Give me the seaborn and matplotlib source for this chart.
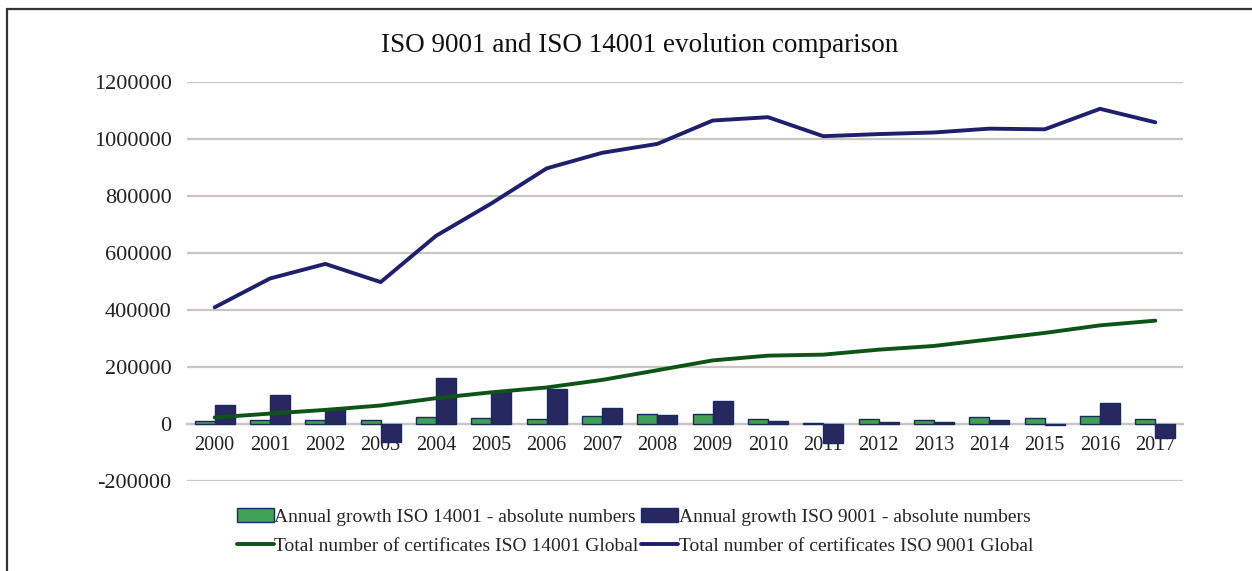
import matplotlib
matplotlib.use('Agg')
import matplotlib.pyplot as plt
from matplotlib.lines import Line2D
import seaborn as sns
import pandas as pd
import numpy as np

years = [str(y) for y in range(2000, 2018)]

# Annual growth (absolute numbers)
growth_14001 = [8791, 13567, 12976, 15556, 25558, 20608, 17049, 26361, 34002,
                34575, 16731, 3513, 17459, 13009, 22875, 22760, 26651, 16463]
growth_9001 = [65778, 101195, 51131, -63828, 162213, 113735, 123062, 54557, 31346,
               81953, 11740, -66680, 7434, 5598, 13444, -2385, 72001, -47433]

# Total number of certificates
total_14001 = [22897, 36464, 49440, 64996, 90554, 111162, 128211, 154572, 188574,
               223149, 239880, 243393, 260852, 273861, 296736, 319496, 346147, 362610]
total_9001 = [409421, 510616, 561747, 497919, 660132, 773867, 896929, 951486, 982832,
              1064785, 1076525, 1009845, 1017279, 1022877, 1036321, 1033936, 1105937, 1058504]

lab_g14 = 'Annual growth ISO 14001 - absolute numbers'
lab_g9 = 'Annual growth ISO 9001 - absolute numbers'
lab_t14 = 'Total number of certificates ISO 14001 Global'
lab_t9 = 'Total number of certificates ISO 9001 Global'

bars = pd.DataFrame({
    'year': years * 2,
    'value': growth_14001 + growth_9001,
    'series': [lab_g14] * len(years) + [lab_g9] * len(years),
})
totals = pd.DataFrame({
    'idx': np.arange(len(years)),
    't14': total_14001,
    't9': total_9001,
})

sns.set_style('white')
plt.rcParams['font.family'] = ['Liberation Serif', 'DejaVu Serif']

fig = plt.figure(figsize=(12.52, 5.71), dpi=100)
ax = fig.add_axes([187 / 1252, 1 - 481 / 571, (1183 - 187) / 1252, (481 - 82) / 571])

sns.barplot(data=bars, x='year', y='value', hue='series', order=years,
            hue_order=[lab_g14, lab_g9],
            palette={lab_g14: '#2fb04e', lab_g9: '#1e1f6b'},
            width=0.72, edgecolor='#1b2a5e', linewidth=1, ax=ax, zorder=3)
sns.lineplot(data=totals, x='idx', y='t14', color='#0e5419', linewidth=2.8,
             label=lab_t14, ax=ax, zorder=4)
sns.lineplot(data=totals, x='idx', y='t9', color='#1f1f6e', linewidth=2.8,
             label=lab_t9, ax=ax, zorder=4)

ax.set_ylim(-200000, 1200000)
ax.set_xlim(-0.5, len(years) - 0.5)
ax.set_yticks(np.arange(-200000, 1200001, 200000))
ax.set_yticklabels([str(v) for v in range(-200000, 1200001, 200000)])
ax.yaxis.grid(True, color='#c9c6c4', linewidth=1.6, zorder=0)
ax.set_axisbelow(True)
for s in ['top', 'right', 'left']:
    ax.spines[s].set_visible(False)
ax.spines['bottom'].set_position(('data', 0))
ax.spines['bottom'].set_color('#c9c6c4')
ax.spines['bottom'].set_linewidth(1.6)
ax.tick_params(axis='x', length=0, pad=9, labelsize=14.5, colors='#222222')
ax.tick_params(axis='y', length=0, pad=11, labelsize=16, colors='#222222')
ax.set_xlabel('')
ax.set_ylabel('')
fig.text(640 / 1252, 1 - 46 / 571, 'ISO 9001 and ISO 14001 evolution comparison',
         fontsize=19.5, color='#111111', ha='center', va='center')

handles, labels = ax.get_legend_handles_labels()
hmap = dict(zip(labels, handles))
if ax.legend_:
    ax.legend_.remove()
order = [lab_g14, lab_t14, lab_g9, lab_t9]
fig.legend([hmap[l] for l in order], order, loc='upper center',
           bbox_to_anchor=(0.507, 1 - 508 / 571), ncol=2, frameon=False, fontsize=14,
           columnspacing=0.1, handletextpad=0.05, handlelength=1.9,
           labelspacing=0.6, borderaxespad=0, borderpad=0)

# frame lines (top and left) around the figure
fig.add_artist(Line2D([7 / 1252, 7 / 1252], [0, 1 - 9 / 571], color='#333333',
                      linewidth=1.6, transform=fig.transFigure))
fig.add_artist(Line2D([7 / 1252, 1], [1 - 9 / 571, 1 - 9 / 571], color='#333333',
                      linewidth=1.6, transform=fig.transFigure))

fig.savefig('out.png', dpi=100, facecolor='white')
